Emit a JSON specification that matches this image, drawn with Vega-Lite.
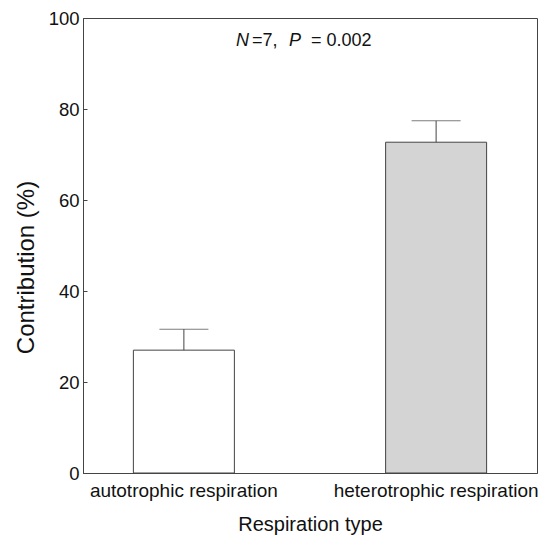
{
  "$schema": "https://vega.github.io/schema/vega-lite/v6.json",
  "width": 454,
  "height": 455,
  "autosize": {"type": "none"},
  "padding": {"left": 83, "top": 18, "right": 3, "bottom": 70},
  "background": "white",
  "config": {
    "font": "Liberation Sans",
    "view": {"stroke": "#444", "strokeWidth": 1},
    "axis": {"domainColor": "#444", "tickColor": "#444", "labelColor": "#111", "titleColor": "#111", "grid": false, "labelFont": "Liberation Sans", "titleFont": "Liberation Sans", "titleFontWeight": "normal"}
  },
  "data": {"values": [
    {"type": "autotrophic respiration", "mean": 27.0, "upper": 31.6},
    {"type": "heterotrophic respiration", "mean": 72.7, "upper": 77.4}
  ]},
  "layer": [
    {
      "mark": {"type": "bar", "size": 101, "stroke": "#444", "strokeWidth": 1},
      "encoding": {
        "x": {"field": "type", "type": "nominal", "sort": null,
          "scale": {"paddingInner": 0.2, "paddingOuter": 0},
          "axis": {"title": "Respiration type", "labelAngle": 0, "labelFontSize": 19, "labelLimit": 0, "titleFontSize": 20, "tickSize": -4, "labelPadding": 12, "titlePadding": 14}},
        "y": {"field": "mean", "type": "quantitative",
          "scale": {"domain": [0, 100], "nice": false},
          "axis": {"title": "Contribution (%)", "values": [0, 20, 40, 60, 80, 100], "labelFontSize": 18.5, "titleFontSize": 24, "tickSize": -4, "labelPadding": 8, "titleX": -57, "titleY": 249, "titleBaseline": "middle", "titleAlign": "center", "titleAngle": -90}},
        "fill": {"field": "type", "type": "nominal", "scale": {"range": ["#ffffff", "#d4d4d4"]}, "legend": null}
      }
    },
    {
      "mark": {"type": "rule", "color": "#444", "strokeWidth": 1},
      "encoding": {
        "x": {"field": "type", "type": "nominal", "sort": null},
        "y": {"field": "mean", "type": "quantitative"},
        "y2": {"field": "upper"}
      }
    },
    {
      "mark": {"type": "tick", "orient": "horizontal", "size": 49, "thickness": 1, "color": "#444"},
      "encoding": {
        "x": {"field": "type", "type": "nominal", "sort": null},
        "y": {"field": "upper", "type": "quantitative"}
      }
    },
    {
      "data": {"values": [
        {"seg": "N", "k": 0},
        {"seg": "=7,", "k": 1},
        {"seg": "P", "k": 2},
        {"seg": "= 0.002", "k": 3}
      ]},
      "layer": [
        {"transform": [{"filter": "datum.k == 0"}],
         "mark": {"type": "text", "align": "left", "baseline": "middle", "fontSize": 18, "fontStyle": "italic", "color": "#111", "dx": 52},
         "encoding": {"x": {"datum": "autotrophic respiration", "type": "nominal"}, "y": {"datum": 95, "type": "quantitative"}, "text": {"field": "seg"}}},
        {"transform": [{"filter": "datum.k == 1"}],
         "mark": {"type": "text", "align": "left", "baseline": "middle", "fontSize": 18, "color": "#111", "dx": 68},
         "encoding": {"x": {"datum": "autotrophic respiration", "type": "nominal"}, "y": {"datum": 95, "type": "quantitative"}, "text": {"field": "seg"}}},
        {"transform": [{"filter": "datum.k == 2"}],
         "mark": {"type": "text", "align": "left", "baseline": "middle", "fontSize": 18, "fontStyle": "italic", "color": "#111", "dx": 105},
         "encoding": {"x": {"datum": "autotrophic respiration", "type": "nominal"}, "y": {"datum": 95, "type": "quantitative"}, "text": {"field": "seg"}}},
        {"transform": [{"filter": "datum.k == 3"}],
         "mark": {"type": "text", "align": "left", "baseline": "middle", "fontSize": 18, "color": "#111", "dx": 127},
         "encoding": {"x": {"datum": "autotrophic respiration", "type": "nominal"}, "y": {"datum": 95, "type": "quantitative"}, "text": {"field": "seg"}}}
      ]
    }
  ]
}
